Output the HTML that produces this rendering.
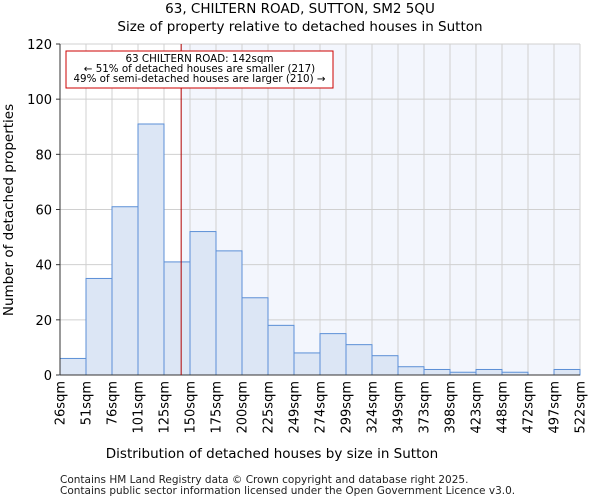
<!DOCTYPE html>
<html><head><meta charset="utf-8"><style>
body{margin:0;background:#fff;font-family:"DejaVu Sans","Liberation Sans",sans-serif;}
</style></head><body>
<svg width="600" height="500" xmlns="http://www.w3.org/2000/svg" font-family="DejaVu Sans, Liberation Sans, sans-serif">
<text x="300" y="13" text-anchor="middle" font-size="13.5">63, CHILTERN ROAD, SUTTON, SM2 5QU</text>
<text x="300" y="31" text-anchor="middle" font-size="13.5">Size of property relative to detached houses in Sutton</text>
<g id="plot"></g>
<text x="272" y="458" text-anchor="middle" font-size="13.5">Distribution of detached houses by size in Sutton</text>
<text transform="translate(13,210) rotate(-90)" text-anchor="middle" font-size="13.5">Number of detached properties</text>
<text x="60" y="483" font-size="10.5" fill="#222">Contains HM Land Registry data © Crown copyright and database right 2025.</text>
<text x="60" y="494" font-size="10.5" fill="#222">Contains public sector information licensed under the Open Government Licence v3.0.</text>
</svg>
<script>
const edgeLabels=["26sqm","51sqm","76sqm","101sqm","125sqm","150sqm","175sqm","200sqm","225sqm","249sqm","274sqm","299sqm","324sqm","349sqm","373sqm","398sqm","423sqm","448sqm","472sqm","497sqm","522sqm"];
const counts=[6,35,61,91,41,52,45,28,18,8,15,11,7,3,2,1,2,1,0,2];
const yTicks=[0,20,40,60,80,100,120];
const propertyBinPos=[4.66];
const NS="http://www.w3.org/2000/svg";
const L=60,R=580,T=44,B=375,yMax=120;
const bw=(R-L)/counts.length;
const xs=i=>L+i*bw;
const ys=v=>B-(v/yMax)*(B-T);
const g=document.getElementById('plot');
function mk(t,a){const e=document.createElementNS(NS,t);for(const k in a)e.setAttribute(k,a[k]);g.appendChild(e);return e;}
const mx=xs(propertyBinPos[0]);
let e=mk('rect',{x:mx,y:T,width:R-mx,height:B-T,fill:'#f3f6fd'});


for(let i=0;i<edgeLabels.length;i++){
 e=mk('line',{x1:xs(i),x2:xs(i),y1:T,y2:B,stroke:'#d0d0d0','stroke-width':1});
 
 
 const tx=xs(i);
 e=mk('text',{transform:`translate(${tx+4.5},${B+6}) rotate(-90)`,'text-anchor':'end','font-size':13});
 e.textContent=edgeLabels[i];
 
 
}
yTicks.forEach(v=>{
 e=mk('line',{x1:L,x2:R,y1:ys(v),y2:ys(v),stroke:'#d0d0d0','stroke-width':1});
 
 
 e=mk('line',{x1:L-4,x2:L,y1:ys(v),y2:ys(v),stroke:'#333'});
 
 
 e=mk('text',{x:L-8,y:ys(v)+5,'text-anchor':'end','font-size':13});
 e.textContent=v;
 
 
});
counts.forEach((c,i)=>{
 if(c<=0)return;
 e=mk('rect',{x:xs(i),y:ys(c),width:bw,height:B-ys(c),fill:'#dce6f5',stroke:'#5b8fd6','stroke-width':1});
 
 
});
e=mk('line',{x1:L,x2:L,y1:T,y2:B,stroke:'#333'});


e=mk('line',{x1:L,x2:R,y1:B,y2:B,stroke:'#333'});


e=mk('line',{x1:mx,x2:mx,y1:T,y2:B,stroke:'#b00000','stroke-width':1});


e=mk('rect',{x:66,y:51,width:267,height:37,fill:'#fff',stroke:'#cc0000','stroke-width':1});


["63 CHILTERN ROAD: 142sqm","← 51% of detached houses are smaller (217)","49% of semi-detached houses are larger (210) →"].forEach((t,i)=>{
 e=mk('text',{x:199.5,y:62+i*10,'text-anchor':'middle','font-size':10.3});
 e.textContent=t;
 
 
});
</script>
</body></html>
